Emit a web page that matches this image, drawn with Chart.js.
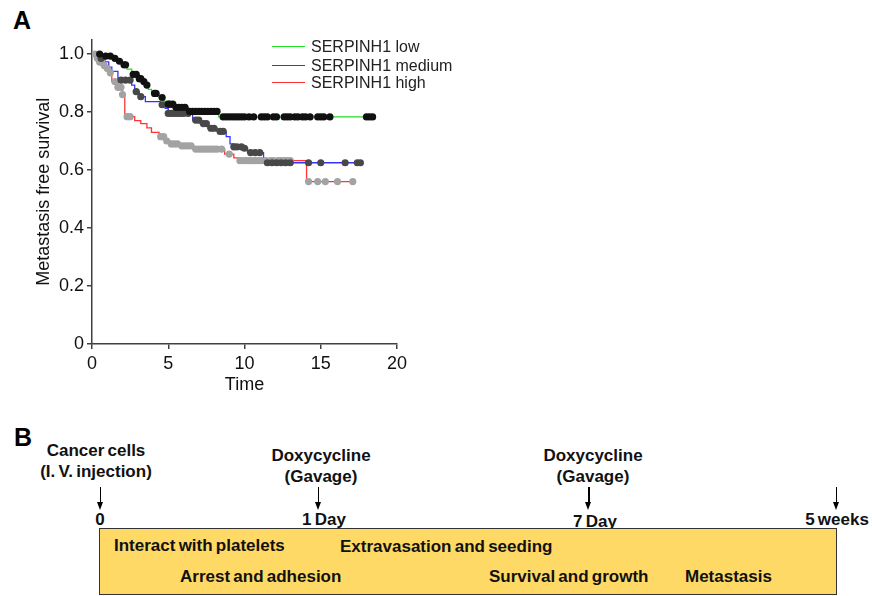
<!DOCTYPE html>
<html>
<head>
<meta charset="utf-8">
<script src="https://cdn.jsdelivr.net/npm/chart.js@4.4.0/dist/chart.umd.min.js"></script>
<style>
  body { margin: 0; background: #fff; font-family: Arial, "Liberation Sans", sans-serif; }
  #page { position: relative; width: 872px; height: 596px; overflow: hidden; }
  #chartBox { position: absolute; left: 0; top: 0; width: 420px; height: 400px; }
  .panel { position: absolute; font-weight: bold; font-size: 25px; line-height: 25px; color: #000; }
  .leg { position: absolute; left: 272px; font-size: 16px; line-height: 18px; color: #222; white-space: nowrap; }
  .leg .sw { display: inline-block; width: 33px; height: 1px; vertical-align: middle; margin-right: 6px; position: relative; top: -1px; }
  .t { position: absolute; font-weight: bold; font-size: 17px; line-height: 21px; white-space: nowrap;
       transform: translateX(-50%); word-spacing: -1.5px; color: #111; text-align: center; }
  .s { position: absolute; font-weight: bold; font-size: 17px; line-height: 18px; white-space: nowrap; word-spacing: -1.5px; color: #111; }
  .arrow { position: absolute; top: 487px; width: 1.5px; height: 16px; background: #000; }
  .arrow::after { content: ""; position: absolute; left: -3px; top: 15px; border-left: 3.75px solid transparent;
       border-right: 3.75px solid transparent; border-top: 8px solid #000; }
  #timeline { position: absolute; left: 99px; top: 528px; width: 738px; height: 67px; box-sizing: border-box;
       background: #ffd966; border: 1px solid #333; }
</style>
</head>
<body>
<div id="page">
  <div class="panel" style="left:13px; top:8px;">A</div>
  <div id="chartBox"><canvas id="km"></canvas></div>
  <div class="leg" style="top:38px;"><span class="sw" style="background:#22e022"></span>SERPINH1 low</div>
  <div class="leg" style="top:57px;"><span class="sw" style="background:#3333ff"></span>SERPINH1 medium</div>
  <div class="leg" style="top:74px;"><span class="sw" style="background:#ff3333"></span>SERPINH1 high</div>

  <div class="panel" style="left:14px; top:425px;">B</div>
  <div class="t" style="left:96px; top:440px;">Cancer cells<br>(I. V. injection)</div>
  <div class="t" style="left:321px; top:445px;">Doxycycline<br>(Gavage)</div>
  <div class="t" style="left:593px; top:445px;">Doxycycline<br>(Gavage)</div>
  <div class="arrow" style="left:99.5px;"></div>
  <div class="arrow" style="left:317.5px;"></div>
  <div class="arrow" style="left:588px;"></div>
  <div class="arrow" style="left:835.5px;"></div>
  <div class="t" style="left:100px; top:509px;">0</div>
  <div class="t" style="left:324px; top:509px;">1 Day</div>
  <div class="t" style="left:595px; top:511px;">7 Day</div>
  <div class="t" style="left:837px; top:509px;">5 weeks</div>
  <div id="timeline"></div>
  <div class="s" style="left:114px; top:537px;">Interact with platelets</div>
  <div class="s" style="left:340px; top:538px;">Extravasation and seeding</div>
  <div class="s" style="left:180px; top:568px;">Arrest and adhesion</div>
  <div class="s" style="left:489px; top:568px;">Survival and growth</div>
  <div class="s" style="left:685px; top:568px;">Metastasis</div>
</div>
<script>
// Kaplan-Meier steps: time of each drop and survival after it
const lowTime = [0, 0.7, 1.4, 1.7, 2.0, 2.3, 2.6, 3.0, 3.3, 3.5, 3.7, 3.9, 4.4, 4.7, 4.9, 5.4, 6.3, 8.3, 18.4];
const lowSurv = [1.0, 0.993, 0.985, 0.975, 0.963, 0.948, 0.93, 0.915, 0.905, 0.893, 0.878, 0.864, 0.85, 0.837, 0.827, 0.816, 0.802, 0.783, 0.783];
const lowCensor = [0.5, 0.9, 1.2, 1.5, 1.8, 2.1, 2.2, 2.7, 2.9, 3.1, 3.2, 3.4, 3.6, 4.1, 4.2, 4.6, 5.0, 5.1, 5.3, 5.5,
  5.7, 5.9, 6.1, 6.4, 6.6, 6.8, 7.0, 7.2, 7.4, 7.6, 7.8, 8.0, 8.2, 8.6, 8.8, 9.0, 9.2, 9.4, 9.6, 9.8, 10.0, 10.3,
  10.6, 11.1, 11.3, 11.5, 11.9, 12.1, 12.6, 12.8, 13.0, 13.3, 13.5, 13.8, 14.0, 14.3, 14.8, 15.0, 15.2, 15.6,
  18.0, 18.2, 18.4];

const medTime = [0, 0.5, 0.85, 1.1, 1.3, 1.7, 2.6, 2.8, 3.1, 3.5, 4.5, 4.8, 5.0, 6.6, 7.1, 7.6, 8.2, 8.8, 9.05, 9.3, 9.9, 10.2, 11.25, 17.7];
const medSurv = [1.0, 0.985, 0.973, 0.955, 0.94, 0.91, 0.893, 0.87, 0.853, 0.836, 0.825, 0.813, 0.795, 0.772, 0.76, 0.744, 0.733, 0.715, 0.69, 0.68, 0.675, 0.66, 0.625, 0.625];
const medCensor = [0.6, 1.9, 2.2, 2.5, 2.9, 3.2, 4.6, 5.0, 5.2, 5.4, 5.6, 5.8, 6.0, 6.3, 6.8, 7.0, 7.3, 7.5, 7.8,
  8.0, 8.4, 8.6, 9.3, 9.5, 9.8, 10.0, 10.4, 10.7, 11.0, 11.5, 11.8, 12.1, 12.4, 12.7, 13.0, 14.2, 15.0, 16.6,
  17.4, 17.6];

const highTime = [0, 0.3, 0.5, 0.7, 0.9, 1.1, 1.3, 1.7, 2.0, 2.15, 2.8, 3.2, 3.6, 3.9, 4.4, 4.8, 5.1, 5.7, 6.6, 8.7, 9.3, 9.6, 14.07, 17.2];
const highSurv = [1.0, 0.985, 0.972, 0.96, 0.95, 0.935, 0.905, 0.885, 0.86, 0.784, 0.77, 0.76, 0.745, 0.73, 0.715, 0.70, 0.69, 0.683, 0.672, 0.655, 0.642, 0.632, 0.56, 0.56];
const highCensor = [0.2, 0.35, 0.5, 0.65, 0.8, 1.0, 1.2, 1.5, 1.7, 1.9, 2.0, 2.3, 2.5, 4.5, 4.7, 4.9, 5.2, 5.4,
  5.6, 5.9, 6.1, 6.3, 6.5, 6.8, 7.0, 7.2, 7.4, 7.6, 7.8, 8.0, 8.2, 8.5, 9.0, 9.7, 9.9, 10.1, 10.3, 10.5, 10.7,
  10.9, 11.1, 11.4, 11.7, 11.9, 12.2, 12.4, 12.6, 12.8, 13.0, 14.2, 14.8, 15.3, 16.1, 17.1];

const groups = ['SERPINH1 low', 'SERPINH1 medium', 'SERPINH1 high'];
const xTicks = [0, 5, 10, 15, 20];

function steps(times, surv) {
  return times.map((t, i) => ({ x: t, y: surv[i] }));
}

// censor marks sit on the curve value at that time
function marks(cens, times, surv) {
  return cens.map(c => {
    let v = surv[0];
    for (let i = 0; i < times.length; i++) if (times[i] <= c) v = surv[i];
    return { x: c, y: v };
  });
}

function lineSet(label, pts, color) {
  return { label: label, data: pts, borderColor: color, borderWidth: 1.3, stepped: 'before',
    pointRadius: 0, fill: false, order: 10 };
}
function dotSet(label, pts, color, order) {
  return { label: label, data: pts, showLine: false, pointRadius: 3.6, pointHoverRadius: 3.6,
    pointBackgroundColor: color, pointBorderWidth: 0, order: order };
}

const tickFont = { family: 'Arial, "Liberation Sans"', size: 18 };

new Chart(document.getElementById('km'), {
  type: 'line',
  data: {
    datasets: [
      lineSet(groups[0], steps(lowTime, lowSurv), '#22e022'),
      lineSet(groups[1], steps(medTime, medSurv), '#3333ff'),
      lineSet(groups[2], steps(highTime, highSurv), '#ff3333'),
      dotSet(groups[2] + ' censored', marks(highCensor, highTime, highSurv), '#a3a3a3', 3),
      dotSet(groups[1] + ' censored', marks(medCensor, medTime, medSurv), '#484848', 2),
      dotSet(groups[0] + ' censored', marks(lowCensor, lowTime, lowSurv), '#111111', 1)
    ]
  },
  options: {
    responsive: true,
    maintainAspectRatio: false,
    animation: false,
    layout: { padding: { top: 39.5, right: 23, bottom: 0, left: 0 } },
    plugins: { legend: { display: false }, tooltip: { enabled: false } },
    scales: {
      x: {
        type: 'linear', min: 0, max: 20,
        afterFit: s => { s.height = 56; },
        afterBuildTicks: s => { s.ticks = xTicks.map(v => ({ value: v })); },
        ticks: { color: '#111', font: tickFont, padding: 4, maxRotation: 0 },
        grid: { drawOnChartArea: false, drawTicks: true, tickLength: 5, color: '#404040', lineWidth: 1.5 },
        border: { color: '#404040', width: 1.5 },
        title: { display: true, text: 'Time', color: '#111', font: { family: tickFont.family, size: 18 },
          padding: { top: 0, bottom: 4 } }
      },
      y: {
        min: 0, max: 1.05,
        afterFit: s => { s.width = 92; },
        ticks: { stepSize: 0.2, includeBounds: false, color: '#111', font: tickFont, padding: 3,
          callback: v => v === 0 ? '0' : v.toFixed(1) },
        grid: { drawOnChartArea: false, drawTicks: true, tickLength: 5, color: '#404040', lineWidth: 1.5 },
        border: { color: '#404040', width: 1.5 },
        title: { display: true, text: 'Metastasis free survival', color: '#111',
          font: { family: tickFont.family, size: 18 }, padding: { top: 33, bottom: 0 } }
      }
    }
  }
});
</script>
</body>
</html>
